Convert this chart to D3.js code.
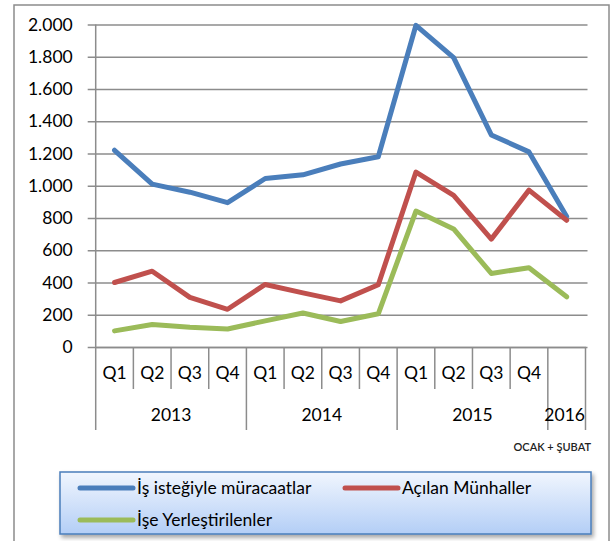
<!DOCTYPE html>
<html>
  <head>
    <meta charset="utf-8">
    <script src="https://d3js.org/d3.v7.min.js"></script>
    <style>
      body { margin: 0; background: #fff; }
      text { font-family: Lato, "Open Sans", sans-serif; fill: #000; }
    </style>
  </head>
  <body>
    <script>
      var width = 614;
      var height = 541;
      var margin = {top: 24.5, left: 95.7, right: 28.5, bottom: 194};

      // kategoriler
      var categories = ["2013 Q1","2013 Q2","2013 Q3","2013 Q4","2014 Q1","2014 Q2","2014 Q3","2014 Q4",
                        "2015 Q1","2015 Q2","2015 Q3","2015 Q4","2016"];
      var quarterLabels = ["Q1","Q2","Q3","Q4","Q1","Q2","Q3","Q4","Q1","Q2","Q3","Q4",""];
      var years = ["2013","2014","2015","2016"];
      var yearSpans = [4, 4, 4, 1];
      var yTicks = [0,200,400,600,800,1000,1200,1400,1600,1800,2000];

      // seriler
      var seriesNames = ["İş isteğiyle müracaatlar", "Açılan Münhaller", "İşe Yerleştirilenler"];
      var seriesColors = ["#4a7ebb", "#c0504d", "#9bbb59"];
      var basvurular = [1220, 1010, 960, 895, 1045, 1068, 1135, 1180, 1995, 1795, 1315, 1210, 810];
      var munhaller  = [400, 470, 308, 234, 388, 336, 286, 386, 1085, 941, 669, 973, 786];
      var yerlesen   = [100, 140, 123, 112, 162, 211, 158, 206, 843, 732, 456, 492, 311];
      var seriesValues = [basvurular, munhaller, yerlesen];

      var trLocale = d3.formatLocale({decimal: ",", thousands: ".", grouping: [3], currency: ["", ""]});
      var fmt = trLocale.format(",");

      var svg = d3.select("body")
        .append("svg")
        .attr("width", width)
        .attr("height", height);

      var defs = svg.append("defs");
      var grad = defs.append("linearGradient")
        .attr("id", "legendGrad")
        .attr("x1", 0).attr("y1", 0).attr("x2", 0).attr("y2", 1);
      grad.append("stop").attr("offset", "0%").attr("stop-color", "#f1f6fe");
      grad.append("stop").attr("offset", "100%").attr("stop-color", "#b3cef6");
      var shadow = defs.append("filter").attr("id", "legendShadow")
        .attr("x", "-5%").attr("y", "-20%").attr("width", "110%").attr("height", "150%");
      shadow.append("feDropShadow")
        .attr("dx", 2).attr("dy", 3).attr("stdDeviation", 2)
        .attr("flood-color", "#000").attr("flood-opacity", 0.35);

      // dış çerçeve
      svg.append("rect")
        .attr("x", 14)
        .attr("y", 5)
        .attr("width", 595)
        .attr("height", 560)
        .attr("fill", "#fff")
        .attr("stroke", "#8c8c8c")
        .attr("stroke-width", 1.5);

      var xScale = d3.scaleBand()
        .domain(categories)
        .range([margin.left, width - margin.right])
        .padding(0);

      var yScale = d3.scaleLinear()
        .domain([0, 2000])
        .range([height - margin.bottom, margin.top]);

      var axisY = height - margin.bottom;

      // yatay ızgara + y ekseni
      var yAxis = svg.append("g")
        .attr("transform", `translate(${margin.left},0)`)
        .call(d3.axisLeft(yScale)
          .tickValues(yTicks)
          .tickFormat(fmt)
          .tickSize(8)
          .tickPadding(15));
      yAxis.select(".domain").remove();
      yAxis.selectAll(".tick line")
        .attr("x2", width - margin.right - margin.left + 2)
        .attr("x1", -8)
        .attr("stroke", "#8c8c8c")
        .attr("stroke-width", 1.5);
      yAxis.selectAll(".tick text")
        .style("font-size", "17.5px")
        .style("font-family", "Lato, sans-serif")
        .attr("fill", "#000");

      // dikey eksen çizgisi
      svg.append("line")
        .attr("x1", margin.left).attr("x2", margin.left)
        .attr("y1", yScale(2000)).attr("y2", axisY)
        .attr("stroke", "#8c8c8c")
        .attr("stroke-width", 1.5);

      // x ekseni: çeyrek etiketleri
      var xAxis = svg.append("g")
        .attr("transform", `translate(0,${axisY})`)
        .call(d3.axisBottom(xScale)
          .tickSize(0)
          .tickPadding(20)
          .tickFormat(function(d, i) { return quarterLabels[i]; }));
      xAxis.select(".domain")
        .attr("stroke", "#8c8c8c")
        .attr("stroke-width", 1.5);
      xAxis.selectAll(".tick text")
        .style("font-size", "17.5px")
        .style("font-family", "Lato, sans-serif")
        .attr("fill", "#000");

      // ayraçlar
      var yearStarts = [];
      var acc = 0;
      yearSpans.forEach(function(s) { yearStarts.push(acc); acc += s; });
      var boundaries = d3.range(categories.length + 1);
      svg.append("g").selectAll("line")
        .data(boundaries)
        .enter()
        .append("line")
          .attr("x1", function(i) { return margin.left + i * xScale.step(); })
          .attr("x2", function(i) { return margin.left + i * xScale.step(); })
          .attr("y1", axisY)
          .attr("y2", function(i) { return (yearStarts.indexOf(i) >= 0 || i === categories.length) ? 430 : 389; })
          .attr("stroke", "#8c8c8c")
          .attr("stroke-width", 1.5);

      // yıl etiketleri
      svg.append("g").selectAll("text")
        .data(years)
        .enter()
        .append("text")
          .attr("x", function(d, i) {
            return margin.left + (yearStarts[i] + yearSpans[i] / 2) * xScale.step() - (i === 3 ? 2 : 0);
          })
          .attr("y", 421)
          .attr("text-anchor", "middle")
          .style("font-size", "17.5px")
          .text(function(d) { return d; });

      svg.append("text")
        .attr("x", 591)
        .attr("y", 451)
        .attr("text-anchor", "end")
        .style("font-size", "11px")
        .style("font-weight", "600")
        .style("fill", "#222")
        .text("OCAK + ŞUBAT");

      // seriler
      var line = d3.line()
        .x(function(d, i) { return xScale(categories[i]) + xScale.bandwidth() / 2; })
        .y(function(d) { return yScale(d); });

      svg.append("g").selectAll("path")
        .data(seriesValues)
        .enter()
        .append("path")
          .attr("d", line)
          .attr("fill", "none")
          .attr("stroke", function(d, i) { return seriesColors[i]; })
          .attr("stroke-width", 5)
          .attr("stroke-linejoin", "round")
          .attr("stroke-linecap", "round");

      // lejant
      var legend = svg.append("g");
      legend.append("rect")
        .attr("x", 60)
        .attr("y", 472)
        .attr("width", 531)
        .attr("height", 62)
        .attr("fill", "url(#legendGrad)")
        .attr("stroke", "#4a7ebb")
        .attr("stroke-width", 1.5)
        .attr("filter", "url(#legendShadow)");

      var legendPos = [{x: 80, y: 488}, {x: 345, y: 488}, {x: 80, y: 520}];
      var item = legend.selectAll(".item")
        .data(seriesNames)
        .enter()
        .append("g")
          .attr("class", "item")
          .attr("transform", function(d, i) { return `translate(${legendPos[i].x},${legendPos[i].y})`; });
      item.append("line")
        .attr("x1", 0).attr("x2", 53)
        .attr("stroke", function(d, i) { return seriesColors[i]; })
        .attr("stroke-width", 5)
        .attr("stroke-linecap", "round");
      item.append("text")
        .attr("x", 57)
        .attr("dy", "0.35em")
        .style("font-size", "17.5px")
        .text(function(d) { return d; });
    </script>
  </body>
</html>
